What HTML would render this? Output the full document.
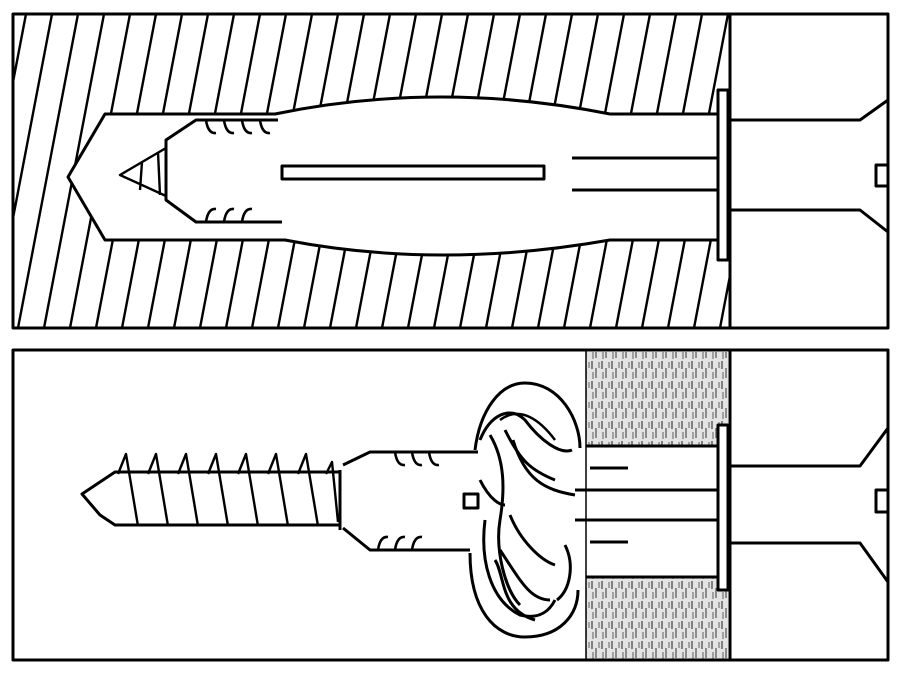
<!DOCTYPE html>
<html><head><meta charset="utf-8"><style>html,body{margin:0;padding:0;background:#fff}svg{display:block}</style></head><body>
<svg width="913" height="700" viewBox="0 0 913 700" xmlns="http://www.w3.org/2000/svg">
<defs>
<clipPath id="hc"><rect x="13" y="14" width="717" height="314"/></clipPath>
<pattern id="stip" width="10" height="20" patternUnits="userSpaceOnUse">
<rect width="10" height="20" fill="#e4e4e4"/>
<line x1="2" y1="1" x2="2" y2="9" stroke="#555" stroke-width="1.4"/>
<line x1="6" y1="8" x2="6" y2="18" stroke="#666" stroke-width="1.4"/>
<line x1="9" y1="2" x2="9" y2="8" stroke="#777" stroke-width="1.2"/>
<line x1="3" y1="12" x2="3" y2="19" stroke="#777" stroke-width="1.2"/>
</pattern>
</defs>
<rect width="913" height="700" fill="#fff"/>
<g fill="none" stroke="#000" stroke-width="3" stroke-linejoin="round">
<!-- TOP PANEL hatching -->
<path clip-path="url(#hc)" stroke-width="2.4" d="M-60,328 l60,-314 m-34,314 l60,-314 m-34,314 l60,-314 m-34,314 l60,-314 m-34,314 l60,-314 m-34,314 l60,-314 m-34,314 l60,-314 m-34,314 l60,-314 m-34,314 l60,-314 m-34,314 l60,-314 m-34,314 l60,-314 m-34,314 l60,-314 m-34,314 l60,-314 m-34,314 l60,-314 m-34,314 l60,-314 m-34,314 l60,-314 m-34,314 l60,-314 m-34,314 l60,-314 m-34,314 l60,-314 m-34,314 l60,-314 m-34,314 l60,-314 m-34,314 l60,-314 m-34,314 l60,-314 m-34,314 l60,-314 m-34,314 l60,-314 m-34,314 l60,-314 m-34,314 l60,-314 m-34,314 l60,-314 m-34,314 l60,-314 m-34,314 l60,-314 m-34,314 l60,-314 m-34,314 l60,-314"/>
<!-- hole (white) -->
<path d="M105,114 L275,114 Q440,80 610,114 L718,114 L718,240 L610,240 Q440,270 285,240 L105,240 L68,177 Z" fill="#fff" stroke="#000"/>
<rect x="13" y="14" width="875" height="314"/>
<line x1="730" y1="14" x2="730" y2="328"/>
<rect x="718" y="90" width="10" height="170" fill="#fff"/>
<!-- dowel tip -->
<path d="M278,120 L196,120 L166,140 L166,200 L196,222 L282,222"/>
<path d="M206,120 q2,14 10,13 M224,120 q2,14 10,13 M242,120 q2,14 10,13 M260,120 q2,14 10,13" stroke-width="2.6"/>
<path d="M206,222 q2,-14 10,-13 M224,222 q2,-14 10,-13 M242,222 q2,-14 10,-13" stroke-width="2.6"/>
<path d="M166,148 L120,175 L166,196 M158,152 L160,195 M142,162 L140,190" stroke-width="2.4"/>
<rect x="282" y="166" width="262" height="13"/>
<line x1="572" y1="158" x2="718" y2="158"/>
<line x1="572" y1="190" x2="718" y2="190"/>
<path d="M730,120 L860,120 L888,100"/>
<path d="M730,210 L860,210 L888,232"/>
<path d="M888,165 L876,165 L876,186 L888,186"/>

<!-- BOTTOM PANEL -->
<rect x="586" y="352" width="142" height="93" fill="url(#stip)" stroke="none"/>
<rect x="586" y="578" width="142" height="82" fill="url(#stip)" stroke="none"/>
<rect x="13" y="350" width="875" height="310"/>
<line x1="730" y1="350" x2="730" y2="660"/>
<line x1="586" y1="350" x2="586" y2="660" stroke-width="1.5"/>
<line x1="586" y1="446" x2="718" y2="446"/>
<line x1="586" y1="577" x2="718" y2="577"/>
<rect x="718" y="425" width="10" height="165" fill="#fff"/>
<line x1="575" y1="490" x2="718" y2="490"/>
<line x1="575" y1="520" x2="718" y2="520"/>
<line x1="590" y1="468" x2="628" y2="468"/>
<line x1="590" y1="542" x2="628" y2="542"/>
<path d="M730,466 L860,466 L888,428"/>
<path d="M730,543 L860,543 L888,582"/>
<path d="M888,490 L876,490 L876,512 L888,512"/>
<!-- screw -->
<path d="M340,472 L115,472 L82,494 L100,515 L115,525 L340,525"/>
<path d="M340,470 L340,530"/>
<path d="M118,474 l8,-20 12,72 M148,474 l8,-20 12,72 M178,474 l8,-20 12,72 M208,474 l8,-20 12,72 M238,474 l8,-20 12,72 M268,474 l8,-20 12,72 M298,474 l8,-20 12,72 M326,474 l6,-12 6,60" stroke-width="2.4"/>
<!-- dowel front -->
<path d="M343,465 L370,452 L478,452 M343,528 L370,550 L470,550"/>
<path d="M395,452 q2,14 10,13 M412,452 q2,14 10,13 M429,452 q2,14 10,13" stroke-width="2.6"/>
<path d="M378,550 q2,-14 10,-13 M395,550 q2,-14 10,-13 M412,550 q2,-14 10,-13" stroke-width="2.6"/>
<rect x="464" y="494" width="14" height="14"/>
<!-- curled portion -->
<path d="M475,450 C480,410 500,383 525,383 C560,383 580,420 580,448"/>
<path d="M470,553 C470,610 495,637 525,637 C560,637 578,615 578,590"/>
<path d="M480,440 C490,415 510,405 525,420 C540,440 560,455 572,450"/>
<path d="M500,420 C520,405 540,420 555,440" stroke-width="2.5"/>
<path d="M490,435 C505,460 505,490 500,520 C495,550 505,590 520,605"/>
<path d="M505,430 C520,460 530,470 555,480"/>
<path d="M513,440 C525,480 545,490 575,495"/>
<path d="M485,520 C480,560 490,600 520,615 C540,620 550,610 555,600"/>
<path d="M510,515 C520,540 540,560 555,565"/>
<path d="M500,550 C520,580 530,600 550,600"/>
<path d="M565,545 C575,565 570,590 557,600"/>
<path d="M495,560 C505,575 500,610 535,620"/>
<path d="M480,480 C490,500 500,505 505,505"/>
</g>
</svg>
</body></html>
